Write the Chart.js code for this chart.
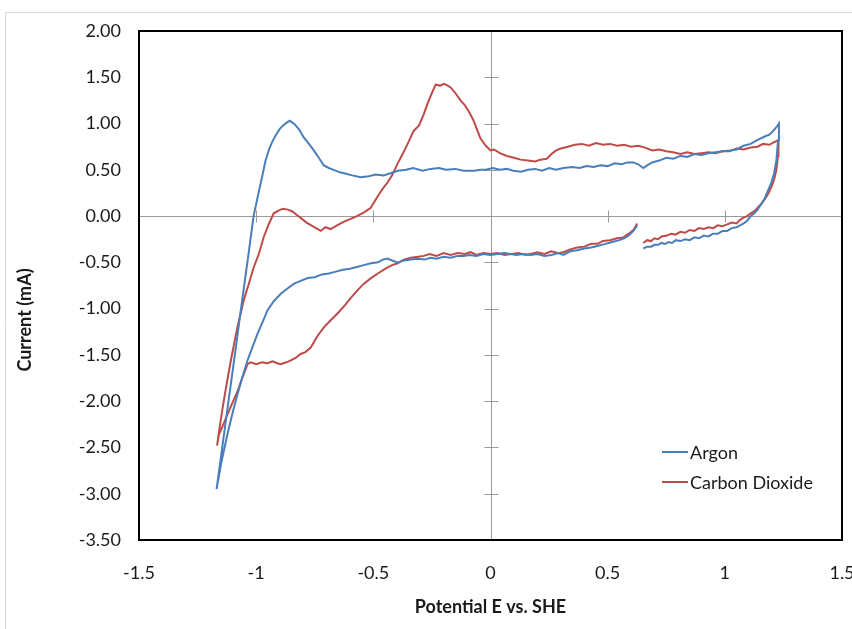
<!DOCTYPE html>
<html>
<head>
<meta charset="utf-8">
<script src="https://cdn.jsdelivr.net/npm/chart.js@4.4.1/dist/chart.umd.min.js"></script>
<style>
  html, body { margin: 0; padding: 0; background: #fff; }
  #wrap { width: 852px; height: 629px; }
</style>
</head>
<body>
<div id="wrap"><canvas id="cv" width="852" height="629"></canvas></div>
<script>
// cyclic voltammograms, Argon vs CO2
const seriesLabels = ['Argon', 'Carbon Dioxide'];
const seriesColors = ['#4a7ebb', '#be4b48'];

const xTicks = [-1.5, -1, -0.5, 0, 0.5, 1, 1.5];
const yTicks = [2, 1.5, 1, 0.5, 0, -0.5, -1, -1.5, -2, -2.5, -3, -3.5];

// Argon: lower right piece -> upper branch leftwards -> down the steep edge -> lower branch back right
const argonE = [
  0.652, 0.668, 0.685, 0.70, 0.715, 0.73, 0.745, 0.76, 0.775, 0.79, 0.81, 0.83, 0.85, 0.87, 0.89, 0.91, 0.93, 0.95, 0.97, 0.99,
  1.01, 1.03, 1.05, 1.065, 1.08, 1.095, 1.11, 1.125, 1.14, 1.155, 1.17, 1.185, 1.198, 1.21, 1.22, 1.227, 1.231,
  1.22, 1.206, 1.19, 1.17, 1.138, 1.11, 1.08, 1.05, 1.023, 0.99, 0.96, 0.93, 0.90, 0.87, 0.84, 0.81, 0.78, 0.75, 0.72, 0.69,
  0.67, 0.652, 0.63, 0.61, 0.584, 0.56, 0.53, 0.50, 0.47, 0.44, 0.41, 0.38, 0.35, 0.311, 0.28, 0.25, 0.22, 0.19, 0.16, 0.13,
  0.098, 0.07, 0.04, 0.01, -0.02, -0.043, -0.07, -0.115, -0.15, -0.19, -0.22, -0.256, -0.29, -0.33, -0.36, -0.396, -0.43,
  -0.456, -0.49, -0.52, -0.554, -0.59, -0.62, -0.639, -0.67, -0.69, -0.712, -0.73, -0.754, -0.775, -0.797, -0.815, -0.835, -0.856,
  -0.87, -0.885, -0.90, -0.915, -0.93, -0.945, -0.96, -0.975, -0.99, -1.011, -1.03, -1.05, -1.07, -1.09, -1.11, -1.13, -1.15, -1.169,
  -1.15, -1.122, -1.10, -1.079, -1.06, -1.037, -1.015, -0.994, -0.97, -0.952, -0.925, -0.895, -0.865, -0.838, -0.81, -0.78,
  -0.75, -0.72, -0.69, -0.66, -0.63, -0.60, -0.57, -0.541, -0.51, -0.48, -0.46, -0.44, -0.42, -0.396, -0.37, -0.34, -0.31,
  -0.28, -0.256, -0.23, -0.20, -0.17, -0.14, -0.115, -0.09, -0.06, -0.03, 0.0, 0.03, 0.06, 0.085, 0.11, 0.14, 0.17, 0.20,
  0.23, 0.26, 0.29, 0.311, 0.34, 0.37, 0.40, 0.43, 0.46, 0.49, 0.52, 0.55, 0.57, 0.59, 0.61, 0.626
];
const argonI = [
  -0.35, -0.33, -0.33, -0.31, -0.31, -0.29, -0.30, -0.28, -0.29, -0.26, -0.27, -0.25, -0.26, -0.23, -0.24, -0.21, -0.22, -0.19, -0.19, -0.16,
  -0.16, -0.13, -0.12, -0.10, -0.08, -0.05, 0.00, 0.03, 0.07, 0.13, 0.19, 0.28, 0.36, 0.46, 0.60, 0.82, 1.00,
  0.96, 0.92, 0.88, 0.86, 0.82, 0.78, 0.76, 0.72, 0.71, 0.70, 0.69, 0.68, 0.66, 0.67, 0.64, 0.65, 0.62, 0.63, 0.60, 0.58,
  0.55, 0.52, 0.56, 0.58, 0.58, 0.56, 0.57, 0.54, 0.55, 0.53, 0.54, 0.52, 0.53, 0.52, 0.50, 0.52, 0.49, 0.51, 0.50, 0.48,
  0.49, 0.51, 0.50, 0.52, 0.50, 0.50, 0.49, 0.49, 0.51, 0.50, 0.52, 0.51, 0.49, 0.52, 0.50, 0.49, 0.46,
  0.44, 0.45, 0.43, 0.42, 0.44, 0.46, 0.47, 0.50, 0.52, 0.55, 0.62, 0.71, 0.78, 0.85, 0.93, 0.99, 1.03,
  1.01, 0.98, 0.94, 0.88, 0.81, 0.72, 0.60, 0.42, 0.25, 0.00, -0.36, -0.73, -1.10, -1.48, -1.85, -2.22, -2.60, -2.95,
  -2.68, -2.35, -2.12, -1.92, -1.75, -1.56, -1.41, -1.27, -1.13, -1.02, -0.92, -0.84, -0.78, -0.73, -0.70, -0.67,
  -0.66, -0.63, -0.62, -0.60, -0.58, -0.57, -0.55, -0.53, -0.51, -0.50, -0.47, -0.46, -0.48, -0.50, -0.48, -0.47, -0.46,
  -0.47, -0.45, -0.46, -0.44, -0.45, -0.43, -0.43, -0.42, -0.43, -0.41, -0.42, -0.41, -0.40, -0.41, -0.42, -0.41, -0.42,
  -0.41, -0.43, -0.42, -0.40, -0.42, -0.38, -0.37, -0.35, -0.34, -0.32, -0.30, -0.28, -0.26, -0.24, -0.21, -0.16, -0.10
];

// CO2: same path order
const co2E = [
  0.652, 0.668, 0.685, 0.70, 0.715, 0.73, 0.754, 0.77, 0.79, 0.81, 0.83, 0.85, 0.87, 0.89, 0.91, 0.93, 0.95, 0.97, 0.99, 1.01,
  1.03, 1.05, 1.065, 1.078, 1.095, 1.11, 1.125, 1.14, 1.155, 1.17, 1.185, 1.198, 1.21, 1.22, 1.227, 1.229,
  1.21, 1.19, 1.163, 1.14, 1.11, 1.08, 1.05, 1.02, 0.99, 0.96, 0.93, 0.90, 0.87, 0.84, 0.81, 0.78, 0.75, 0.72, 0.69, 0.66,
  0.63, 0.60, 0.57, 0.54, 0.51, 0.48, 0.45, 0.42, 0.39, 0.36, 0.33, 0.30, 0.28, 0.26, 0.24, 0.213, 0.19, 0.16, 0.128, 0.10,
  0.07, 0.04, 0.015, 0.0, -0.02, -0.043, -0.06, -0.072, -0.09, -0.11, -0.128, -0.15, -0.17, -0.19, -0.2, -0.215, -0.234,
  -0.25, -0.268, -0.285, -0.305, -0.328, -0.35, -0.375, -0.396, -0.42, -0.44, -0.456, -0.48, -0.511, -0.54, -0.57, -0.597,
  -0.625, -0.655, -0.682, -0.705, -0.724, -0.745, -0.765, -0.785, -0.805, -0.825, -0.845, -0.865, -0.886, -0.905, -0.925,
  -0.945, -0.967, -0.99, -1.01, -1.03, -1.052, -1.08, -1.108, -1.125, -1.143, -1.155, -1.167,
  -1.159, -1.14, -1.122, -1.10, -1.079, -1.058, -1.037, -1.023, -1.0, -0.975, -0.952, -0.93, -0.91, -0.895, -0.872, -0.852,
  -0.83, -0.81, -0.79, -0.767, -0.737, -0.71, -0.68, -0.652, -0.62, -0.595, -0.567, -0.54, -0.51, -0.481, -0.45, -0.42,
  -0.396, -0.37, -0.34, -0.31, -0.285, -0.26, -0.23, -0.20, -0.17, -0.14, -0.11, -0.085, -0.06, -0.03, 0.0, 0.03, 0.06,
  0.09, 0.12, 0.15, 0.17, 0.20, 0.23, 0.26, 0.29, 0.311, 0.34, 0.37, 0.40, 0.43, 0.456, 0.48, 0.51, 0.54, 0.567, 0.59,
  0.61, 0.626
];
const co2I = [
  -0.29, -0.26, -0.27, -0.24, -0.25, -0.22, -0.21, -0.19, -0.20, -0.17, -0.18, -0.15, -0.16, -0.13, -0.14, -0.12, -0.13, -0.10, -0.11, -0.09,
  -0.07, -0.08, -0.04, -0.02, 0.00, 0.03, 0.05, 0.09, 0.13, 0.18, 0.24, 0.31, 0.39, 0.50, 0.65, 0.82,
  0.80, 0.77, 0.78, 0.75, 0.74, 0.72, 0.73, 0.70, 0.70, 0.68, 0.69, 0.68, 0.67, 0.69, 0.67, 0.69, 0.70, 0.72, 0.71, 0.74,
  0.76, 0.75, 0.77, 0.76, 0.78, 0.77, 0.79, 0.76, 0.78, 0.77, 0.75, 0.73, 0.71, 0.67, 0.62, 0.61, 0.59, 0.60, 0.61, 0.63,
  0.65, 0.68, 0.72, 0.71, 0.76, 0.84, 0.95, 1.03, 1.12, 1.20, 1.25, 1.33, 1.39, 1.42, 1.43, 1.41, 1.42,
  1.33, 1.22, 1.10, 0.98, 0.92, 0.80, 0.67, 0.57, 0.44, 0.36, 0.31, 0.22, 0.09, 0.04, 0.00, -0.03,
  -0.06, -0.10, -0.14, -0.12, -0.16, -0.13, -0.10, -0.07, -0.03, 0.01, 0.05, 0.07, 0.08, 0.06, 0.03,
  -0.08, -0.22, -0.42, -0.55, -0.72, -0.90, -1.20, -1.56, -1.80, -2.07, -2.27, -2.48,
  -2.36, -2.25, -2.14, -2.01, -1.89, -1.74, -1.60, -1.58, -1.60, -1.58, -1.59, -1.57, -1.59, -1.60, -1.58, -1.56,
  -1.53, -1.49, -1.47, -1.42, -1.29, -1.20, -1.12, -1.05, -0.96, -0.88, -0.80, -0.73, -0.67, -0.62, -0.57, -0.53,
  -0.51, -0.47, -0.45, -0.44, -0.43, -0.41, -0.43, -0.40, -0.42, -0.40, -0.41, -0.39, -0.42, -0.40, -0.41, -0.40, -0.42,
  -0.41, -0.40, -0.42, -0.41, -0.39, -0.41, -0.38, -0.40, -0.39, -0.36, -0.34, -0.33, -0.30, -0.30, -0.27, -0.26, -0.24, -0.23, -0.19,
  -0.15, -0.08
];

const toPoints = (xs, ys) => xs.map((x, i) => ({ x: x, y: ys[i] }));

const FONT = 'Lato, "Liberation Sans", sans-serif';
const TEXT = '#1a1a1a';
const AXIS_GRAY = '#9a9a9a';

// Excel look: axes crossing at zero with cross ticks, black plot frame, legend inside
const excelBits = {
  id: 'excelBits',
  beforeDraw(chart) {
    const ctx = chart.ctx;
    ctx.save();
    ctx.strokeStyle = '#d9d9d9';
    ctx.lineWidth = 1;
    ctx.beginPath();
    ctx.moveTo(5.5, chart.height);
    ctx.lineTo(5.5, 12.5);
    ctx.lineTo(chart.width, 12.5);
    ctx.stroke();
    ctx.restore();
  },
  beforeDatasetsDraw(chart) {
    const ctx = chart.ctx;
    const area = chart.chartArea;
    const xs = chart.scales.x, ys = chart.scales.y;
    const x0 = Math.round(xs.getPixelForValue(0)) + 0.5;
    const y0 = Math.round(ys.getPixelForValue(0)) + 0.5;
    ctx.save();
    ctx.strokeStyle = AXIS_GRAY;
    ctx.lineWidth = 1;
    ctx.beginPath();
    ctx.moveTo(area.left, y0);
    ctx.lineTo(area.right, y0);
    ctx.moveTo(x0, area.top);
    ctx.lineTo(x0, area.bottom);
    yTicks.forEach(v => {
      const py = Math.round(ys.getPixelForValue(v)) + 0.5;
      ctx.moveTo(x0 - 7, py);
      ctx.lineTo(x0 + 7, py);
    });
    xTicks.forEach(v => {
      const px = Math.round(xs.getPixelForValue(v)) + 0.5;
      ctx.moveTo(px, y0 - 6);
      ctx.lineTo(px, y0 + 6);
    });
    ctx.stroke();
    ctx.restore();
  },
  afterDatasetsDraw(chart) {
    const ctx = chart.ctx;
    const area = chart.chartArea;
    ctx.save();
    ctx.strokeStyle = '#000';
    ctx.lineWidth = 2;
    ctx.strokeRect(area.left, area.top, area.right - area.left, area.bottom - area.top);

    // legend
    ctx.font = '18px ' + FONT;
    ctx.textBaseline = 'middle';
    ctx.textAlign = 'left';
    chart.data.datasets.forEach((ds, i) => {
      const ly = 452 + i * 30;
      ctx.strokeStyle = ds.borderColor;
      ctx.lineWidth = 2;
      ctx.beginPath();
      ctx.moveTo(662, ly);
      ctx.lineTo(688, ly);
      ctx.stroke();
      ctx.fillStyle = TEXT;
      ctx.fillText(ds.label, 690, ly + 1);
    });

    // y axis title
    ctx.translate(25, 320);
    ctx.rotate(-Math.PI / 2);
    ctx.font = 'bold 18px ' + FONT;
    ctx.textAlign = 'center';
    ctx.fillStyle = TEXT;
    ctx.fillText('Current (mA)', 0, 0);
    ctx.restore();
  }
};

new Chart(document.getElementById('cv'), {
  type: 'scatter',
  data: {
    datasets: [
      {
        label: seriesLabels[0],
        data: toPoints(argonE, argonI),
        borderColor: seriesColors[0],
        backgroundColor: seriesColors[0],
        showLine: true,
        borderWidth: 2,
        pointRadius: 0,
        tension: 0
      },
      {
        label: seriesLabels[1],
        data: toPoints(co2E, co2I),
        borderColor: seriesColors[1],
        backgroundColor: seriesColors[1],
        showLine: true,
        borderWidth: 2,
        pointRadius: 0,
        tension: 0
      }
    ]
  },
  options: {
    responsive: false,
    animation: false,
    events: [],
    layout: { padding: { top: 31, right: 10, left: 0, bottom: 0 } },
    scales: {
      x: {
        type: 'linear',
        min: -1.5,
        max: 1.5,
        afterFit: s => { s.height = 89; s.paddingLeft = 0; s.paddingRight = 0; },
        afterBuildTicks: s => { s.ticks = xTicks.map(v => ({ value: v })); },
        grid: { display: false, drawTicks: false },
        border: { display: false },
        ticks: {
          padding: 22,
          color: TEXT,
          font: { family: FONT, size: 18 },
          callback: v => String(v)
        },
        title: {
          display: true,
          text: 'Potential E vs. SHE',
          color: TEXT,
          font: { family: FONT, size: 18, weight: 'bold' },
          padding: { top: 0, bottom: 11 }
        }
      },
      y: {
        type: 'linear',
        min: -3.5,
        max: 2,
        afterFit: s => { s.width = 139; s.paddingTop = 0; s.paddingBottom = 0; },
        afterBuildTicks: s => { s.ticks = yTicks.map(v => ({ value: v })); },
        grid: { display: false, drawTicks: false },
        border: { display: false },
        ticks: {
          padding: 18,
          color: TEXT,
          font: { family: FONT, size: 18 },
          callback: v => v.toFixed(2)
        }
      }
    },
    plugins: {
      legend: { display: false },
      tooltip: { enabled: false }
    }
  },
  plugins: [excelBits]
});
</script>
</body>
</html>
